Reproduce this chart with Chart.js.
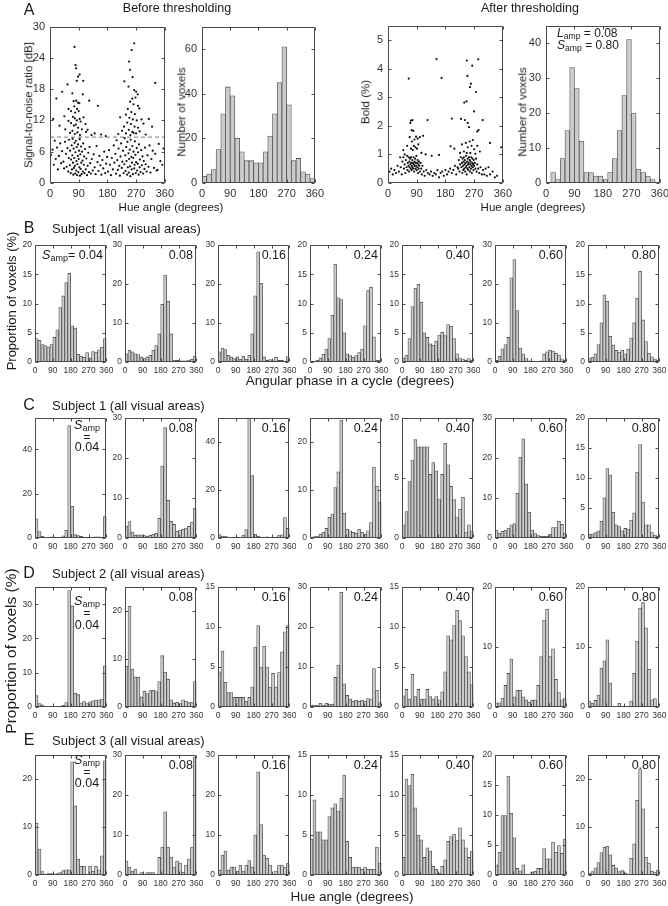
<!DOCTYPE html>
<html>
<head>
<meta charset="utf-8">
<script src="https://cdn.jsdelivr.net/npm/chart.js@4.4.0/dist/chart.umd.min.js"></script>
<style>
  body { margin: 0; background: #fff; }
  #fig { position: relative; width: 668px; height: 906px; overflow: hidden; font-family: "Liberation Sans", Arial, sans-serif; color: #1a1a1a; }
  #fig canvas { position: absolute; }
  .t { position: absolute; white-space: nowrap; transform: translate(-50%, -50%); line-height: 1; }
  .l { position: absolute; white-space: nowrap; transform: translate(0, -50%); line-height: 1; }
  .r { position: absolute; white-space: nowrap; transform: translate(-100%, -50%); line-height: 1; }
  .v { position: absolute; white-space: nowrap; transform: translate(-50%, -50%) rotate(-90deg); line-height: 1; }
  sub { font-size: 0.72em; vertical-align: -0.22em; line-height: 0; }
</style>
</head>
<body>
<div id="fig"></div>
<script>
// bins (centres, degrees) and tick labels
const binCenters = [7.5, 22.5, 37.5, 52.5, 67.5, 82.5, 97.5, 112.5, 127.5, 142.5, 157.5, 172.5,
  187.5, 202.5, 217.5, 232.5, 247.5, 262.5, 277.5, 292.5, 307.5, 322.5, 337.5, 352.5];
const hueTicks = [0, 90, 180, 270, 360];
const sampLabels = ["0.04", "0.08", "0.16", "0.24", "0.40", "0.60", "0.80"];

// A: before / after thresholding
const snrThreshold = 8.8;
const snrPoints = [
  [77,26.1],[80,22.6],[82,22],[88,20.4],[93,20.8],[84,19.6],[104,19.6],[55,18.9],[38,17.5],[20,16.2],
  [70,17.2],[74,15.7],[82,15.8],[88,15.4],[76,14.7],[85,14.2],[92,15.3],[79,13.5],[90,13.8],[72,12.7],
  [78,12.4],[84,12],[93,12.3],[66,11.5],[75,11],[81,11.2],[88,10.6],[96,11.8],[100,10.3],[70,10],
  [86,9.7],[78,9.4],[94,9.2],[63,9.6],[105,12.6],[111,11.3],[118,10.2],[123,15.8],[10,12.3],[30,11],
  [45,12.8],[58,14.2],[48,10.3],[66,13.8],[113,9.8],[103,17],[58,11.9],
  [264,26.8],[256,25.5],[248,23.3],[251,21.7],[259,20.3],[233,19.5],[246,18.5],[264,17.8],[270,17.5],
  [275,17],[268,16.4],[258,16.2],[251,15.6],[262,15.1],[276,14.8],[280,14.3],[244,14.2],[255,13.6],
  [266,13.2],[238,13.1],[249,12.5],[260,12.2],[272,12],[287,12.2],[242,11.6],[254,11.3],[265,10.8],
  [276,10.6],[232,10.8],[247,10.2],[258,9.8],[270,9.5],[281,9.9],[226,10],[238,9.5],[252,9.2],[262,9.6],
  [293,11.4],[310,12.3],[330,19.2],[220,12.6],[214,9.4],[300,9.3],[320,10.8],
  [150,14.8],[130,9.2],[160,9.3],[175,9],[140,9.5],
  [3,5.4],[8,6.4],[12,3.5],[15,8.1],[18,4.6],[22,6.8],[25,2.6],[28,5.2],[32,7.6],[35,3.8],[38,6.1],
  [42,4.1],[44,2.8],[47,7.9],[50,5.6],[52,3.1],[55,6.7],[57,2.2],[59,4.8],[60,8.3],
  [62,3.4],[63,6.2],[65,1.9],[66,4.5],[68,7.2],[69,2.6],[70,5.3],[71,8.5],[72,3.9],[73,1.6],[74,6.6],
  [75,2.9],[76,4.8],[77,7.7],[78,3.3],[79,1.8],[80,5.9],[81,8.1],[82,2.4],[83,4.2],[84,6.9],[85,1.5],
  [86,3.6],[87,5.2],[88,7.4],[89,2.1],[90,4.6],[91,6.2],[92,3],[93,8.4],[94,1.4],[95,5.5],[96,2.7],
  [97,7],[98,3.9],[99,1.7],[100,6],[102,4.3],[103,2.2],[104,7.6],[106,3.5],[107,5.1],[108,1.9],[110,6.5],
  [112,2.6],[114,4.7],[116,1.5],[118,3.3],[120,5.8],[122,2.1],[124,6.9],[126,3.8],[128,1.8],[131,4.6],
  [134,2.4],[137,5.5],[140,3],[143,1.7],[146,7.1],[149,4],[152,2.3],[155,5.2],[158,3.4],[161,1.6],
  [164,4.4],[167,2.8],[170,6],[173,1.9],[176,3.7],[179,5],[182,2.2],[185,6.3],[188,3.5],[191,1.5],
  [194,4.8],[197,2.6],[200,7.2],
  [202,3.9],[205,5.6],[207,1.8],[209,8.2],[211,4.4],[213,2.5],[215,6.6],[217,3.3],[219,1.4],[221,5.1],
  [223,7.6],[225,2.9],[227,4.1],[229,6.2],[231,1.9],[233,3.6],[234,8.6],[236,5.3],[237,2.3],[239,6.9],
  [240,4.2],[242,1.6],[243,7.9],[244,3],[246,5.7],[247,2],[248,4.6],[250,6.4],[251,3.2],[252,1.3],
  [253,8.3],[255,5],[256,2.6],[257,3.9],[258,7.1],[260,1.7],[261,4.8],[262,6],[264,2.8],[265,3.5],
  [266,8],[268,5.4],[269,1.9],[270,4],[272,6.7],[273,2.4],[275,3.7],[276,5.9],[278,1.6],[279,7.4],
  [281,3],[282,4.5],[284,2.1],[286,6.3],[288,3.4],[290,5.1],[292,1.8],[294,4.2],[296,2.7],[298,6.8],
  [300,3.6],[303,2.2],[306,5.3],[309,3.1],[312,7.2],[315,2],[318,4.6],[322,6.2],[326,2.9],[330,5.6],
  [334,2.4],[337,2.5],[341,7.5],[346,4.2],[352,3.5],[356,6.6]
];
const beforeCounts = [3, 4, 6, 15, 31, 43, 39, 20, 14, 10, 10, 9, 9, 14, 21, 31, 45, 61, 35, 10, 11, 5, 4, 2];

const boldPoints = [
  [65,3.65],[152,4.33],[168,3.67],[247,4.28],[283,4.32],[264,4.1],[249,3.74],[260,3.47],[257,3.35],
  [276,3.18],[239,2.81],[246,2.85],[270,2.5],[229,2.24],[241,2.2],[297,2.2],[124,2.2],[200,2.25],
  [72,2.18],[77,2.2],[74,1.85],[79,1.82],[70,2.1],[284,1.85],[280,1.8],[250,2.1],[254,1.95],
  [88,1.62],[93,1.55],[83,1.52],[68,1.6],[75,1.45],[95,1.35],[81,1.3],[86,1.25],[91,1.2],[60,1.3],
  [100,1.6],[78,1.15],[72,1.2],[105,1.05],[110,1.65],[118,1.0],[137,0.95],[160,0.98],[196,1.28],
  [208,1.2],[232,1.35],[238,1.1],[244,1.4],[250,1.25],[256,1.45],[262,1.3],[266,1.5],[270,1.18],
  [258,1.05],[247,1.05],[274,1.02],[280,1.3],[288,1.1],[226,1.05],[320,1.4],[355,1.25],[48,1.15],[52,1.0],
  [5,0.4],[10,0.5],[15,0.3],[20,0.45],[25,0.35],[30,0.6],[34,0.4],[38,0.9],[40,0.55],[43,0.3],[45,0.75],
  [48,0.9],[50,0.5],[52,0.65],[54,0.35],[56,0.8],[58,0.55],[60,0.95],[61,0.45],[62,0.7],[64,0.6],
  [65,0.9],[66,0.4],[67,0.75],[68,0.55],[69,0.85],[70,0.65],[71,0.5],[72,0.9],[73,0.7],[74,0.45],
  [75,0.6],[76,0.8],[77,0.55],[78,0.7],[79,0.5],[80,0.9],[81,0.65],[82,0.4],[83,0.75],[84,0.6],
  [85,0.85],[86,0.5],[87,0.7],[88,0.6],[89,0.95],[90,0.45],[91,0.7],[92,0.55],[93,0.8],[94,0.35],
  [95,0.65],[96,0.5],[97,0.75],[98,0.6],[100,0.4],[102,0.7],[104,0.5],[106,0.3],[108,0.6],[112,0.4],
  [115,0.25],[120,0.45],[125,0.35],[130,0.3],[135,0.4],[140,0.25],[145,0.35],[150,0.3],[155,0.45],
  [160,0.2],[165,0.35],[170,0.4],[175,0.25],[180,0.45],[185,0.3],[190,0.4],[195,0.5],[200,0.35],
  [205,0.45],[210,0.6],[214,0.3],[218,0.55],
  [220,0.5],[222,0.8],[224,0.4],[226,0.65],[228,0.9],[230,0.55],[232,0.7],[233,0.35],[234,0.85],
  [235,0.6],[236,0.45],[237,0.75],[238,0.9],[239,0.5],[240,0.65],[241,0.8],[242,0.4],[243,0.7],
  [244,0.55],[245,0.95],[246,0.6],[247,0.3],[248,0.75],[249,0.5],[250,0.85],[251,0.65],[252,0.45],
  [253,0.7],[254,0.9],[255,0.55],[256,0.8],[257,0.4],[258,0.65],[259,0.75],[260,0.5],[261,0.9],
  [262,0.6],[263,0.35],[264,0.7],[265,0.85],[266,0.55],[267,0.65],[268,0.45],[269,0.8],[270,0.6],
  [272,0.7],[274,0.5],[276,0.85],[278,0.4],[280,0.65],[283,0.5],[286,0.35],[290,0.55],[294,0.3],
  [298,0.45],[302,0.3],[306,0.5],[310,0.25],[315,0.55],[320,0.3],[328,0.4],[335,0.2],[342,0.25]
];
const afterCounts = [0, 3, 1, 7, 15, 33, 27, 12, 3, 3, 2, 2, 1, 3, 7, 15, 25, 41, 20, 4, 3, 2, 1, 0];

// B: subject 1, angular phase
const b004 = [4, 3.7, 3, 2.8, 2.6, 3, 4.2, 5.5, 9.3, 11.3, 13.6, 15.2, 6.2, 5.8, 1.3, 1, 0.8, 1.6, 0.7, 1.8, 1.7, 2.1, 2.5, 4];
const b008 = [2.1, 3, 2.6, 2.1, 1.9, 1.3, 0.9, 1.3, 1.7, 3, 4.2, 7.2, 14.8, 22.3, 15.6, 7.2, 0.5, 0.4, 0.3, 0.3, 0.3, 0.5, 0.7, 1.5];
const b016 = [2.6, 3.6, 3.2, 1.7, 1.3, 0.9, 1.3, 0.7, 1.5, 0.7, 1.7, 7.2, 17, 28.3, 20.2, 1.3, 0.4, 0.6, 0.3, 1.2, 0.4, 0.4, 0.2, 1.4];
const b024 = [0, 0.1, 0.3, 0.7, 1.3, 2.2, 4, 8, 16.7, 11, 10.7, 5, 1.4, 1.1, 0.8, 1.1, 1.6, 2.2, 6.2, 12.2, 12.8, 4.3, 0.3, 0.3];
const b040 = [0.7, 1.2, 4, 9.5, 12.6, 13.3, 10.2, 5, 4.2, 3.1, 2.9, 3.6, 4.6, 5.1, 4.5, 6.4, 6.1, 4, 1.4, 0.6, 0.5, 0.3, 0.6, 0.3];
const b060 = [0.4, 1.5, 3.4, 4.5, 6.3, 21.6, 26.3, 13.2, 3.6, 2.1, 0.9, 0.3, 0.1, 0.1, 0.1, 0.3, 2, 2.6, 3, 2.8, 2.2, 1.8, 0.8, 0.4];
const b080 = [0.6, 0.8, 1.4, 3, 6.7, 11.5, 10.4, 4.4, 2.9, 2, 1.7, 2, 1.4, 2.2, 4.1, 6.7, 10.9, 15.5, 7.2, 3.5, 1.5, 0.9, 0.5, 0.3];
const yMaxB = [20, 30, 30, 20, 20, 30, 20];
const yStepB = [5, 10, 10, 5, 5, 10, 5];

// C: subject 1, hue angle
const c004 = [8.6, 2.9, 0.8, 0.1, 0.3, 0.5, 0.3, 0.1, 0.3, 1, 3.5, 50.6, 14.3, 1.5, 1.1, 0.7, 0.2, 0.3, 0.2, 0.2, 0.5, 0.5, 0.2, 9.6];
const c008 = [3, 4.1, 1.5, 0.7, 0.8, 0.8, 0.6, 0.5, 0.7, 0.9, 1.2, 4.9, 18, 27.6, 9.4, 4.2, 3.4, 1.7, 2, 2.2, 2.5, 2.9, 4, 7.5];
const c016 = [1.4, 0.8, 0.8, 0.4, 0.2, 0.2, 0.2, 0.3, 1.2, 3.5, 51, 26, 1.5, 0.7, 0.3, 0.3, 0.5, 0.3, 0.4, 0.3, 1.2, 1.3, 8.5, 4];
const c024 = [0, 0.3, 0.4, 0.8, 1.2, 2, 4.3, 5, 10.5, 13.8, 24.6, 5.2, 1.8, 1.5, 1.2, 1, 1.8, 1.2, 0.8, 1.5, 3.2, 14.8, 10.8, 7.5];
const c040 = [1.1, 2.2, 4.7, 6.5, 8.2, 7.6, 7.6, 7.6, 7.6, 5.3, 6.3, 5.6, 3.2, 5.3, 7.9, 6.1, 4.3, 3.2, 1.7, 2.4, 3.4, 0.5, 1.1, 0.6];
const c060 = [2, 1.2, 1.7, 2, 2.5, 3.3, 3.6, 11.2, 20.2, 24.8, 13.5, 6.5, 2, 1.1, 0.6, 0.4, 0.4, 0.4, 0.9, 2.6, 2.6, 4.2, 3.4, 1.2];
const c080 = [0.6, 0.7, 0.9, 1.2, 2.8, 6.7, 11.6, 10.5, 4.3, 2.2, 1.9, 1.2, 1.6, 1.5, 3, 4.2, 11, 15.6, 6, 2.2, 2.2, 0.9, 0.5, 0.3];
const yMaxC = [54, 30, 50, 25, 10, 30, 20];
const yStepC = [20, 10, 20, 10, 5, 10, 5];

// D: subject 2, hue angle
const d004 = [3.3, 1, 0.6, 0.1, 0.2, 0.2, 0.1, 0.1, 0.2, 0.5, 1.3, 34, 29.5, 4, 3.6, 1.2, 1.6, 1, 1.5, 1.8, 2, 2.1, 2.3, 12];
const d008 = [8.5, 21, 7.9, 6.3, 6.2, 2.1, 3.3, 2.8, 3.4, 3.5, 3.2, 5.3, 10.7, 7.3, 5.8, 1.5, 0.8, 1, 0.7, 1.5, 1.2, 0.9, 0.9, 5.3];
const d016 = [4.4, 7, 3.1, 1.8, 1.8, 1.2, 1.2, 1.2, 1.2, 0.7, 1.2, 2.5, 7.5, 10.2, 5, 7.6, 5, 2.5, 4.2, 2.5, 4.3, 6.9, 9.4, 10.2];
const d024 = [0.5, 0.5, 0.5, 0.9, 0.5, 0.9, 0.6, 0.7, 7.4, 10.5, 28.7, 5.8, 2.9, 2, 1.4, 1.7, 1.4, 1.7, 1.5, 2.1, 2, 9.6, 4.2, 1.1];
const d040 = [1.4, 2.2, 1, 4.1, 1.3, 2.2, 1, 1, 2.2, 1.3, 1, 1.3, 0.9, 1.9, 4.4, 8.9, 8.4, 10.2, 12.1, 10.8, 8.9, 6.3, 4.4, 2.8];
const d060 = [0.7, 0.7, 1.5, 3.6, 5.6, 8, 1.7, 2.8, 2.8, 1.7, 1.2, 0.8, 1.1, 1.2, 3.6, 8.4, 14.5, 16.3, 8.4, 9.7, 4.6, 2.4, 1.2, 1.5];
const d080 = [1, 0.6, 1.1, 2, 6.5, 7.7, 11.2, 4, 0, 0, 0.6, 0, 0, 0, 1, 5.6, 11, 16.5, 17.4, 13.2, 6.3, 1.2, 1.4, 0];
const yMaxD = [35, 25, 15, 30, 15, 20, 20];
const yStepD = [10, 10, 5, 10, 5, 10, 10];

// E: subject 3, hue angle
const e004 = [10.8, 5.4, 0.7, 0, 0.3, 0.3, 0, 0.3, 0.5, 0.9, 1.1, 1.1, 23.6, 14.4, 3.3, 1.8, 1.8, 0, 1.8, 0.8, 1.8, 1.1, 4, 23.8];
const e008 = [3.5, 2, 1, 1.5, 0, 0.6, 0, 0.6, 0.6, 0.6, 0, 4.4, 7, 15.8, 7, 4.5, 2, 3.5, 3, 0.7, 2.5, 4, 7, 29.5];
const e016 = [1.2, 5, 6, 1.2, 2, 2, 1, 2.5, 1, 2.5, 3.6, 2, 10, 25.8, 12.6, 5, 4.2, 2.5, 0.3, 1, 2.5, 2.5, 2, 3];
const e024 = [4.5, 9.4, 5.4, 5.4, 4.4, 4.4, 7.3, 8.4, 8.9, 8, 9.6, 12.5, 4.2, 2.2, 1, 1, 1, 0.7, 1, 0.7, 0.7, 0.7, 3.5, 1.5];
const e040 = [2.2, 12, 11.2, 12.6, 8.4, 5, 4.4, 2.2, 3.4, 3, 1.1, 0.7, 0.2, 1.1, 1.9, 4.2, 4.8, 5.1, 4.3, 5.9, 4.4, 3.4, 2.2, 3];
const e060 = [1.7, 3.8, 9.9, 9.9, 16.5, 10.3, 6.2, 1.1, 0.7, 1.7, 0, 0, 0.5, 0.6, 1.1, 1.1, 4.4, 2.7, 2.7, 5.5, 3.8, 4.9, 3.6, 6];
const e080 = [0.4, 0.7, 1.5, 2.6, 4.7, 5.8, 6, 4.2, 2, 1.5, 0.7, 0.9, 0.4, 0.2, 3.5, 6.5, 15.6, 22, 13.8, 3.7, 2.5, 0.8, 0.6, 1];
const yMaxE = [25, 30, 30, 15, 15, 20, 25];
const yStepE = [10, 10, 10, 5, 5, 5, 10];

const colors = {
  barFill: "#cbcbcb",
  barEdge: "#4f4f4f",
  axis: "#4a4a4a",
  tick: "#333333",
  point: "#111111",
  dash: "#7a7a7a",
};
const FONT = "'Liberation Sans', Arial, sans-serif";
Chart.defaults.font.family = FONT;

const fig = document.getElementById("fig");

// box round the plot + inward tick marks on all four sides (matlab look)
const matlabBox = {
  id: "matlabBox",
  afterDatasetsDraw(chart) {
    const { ctx, chartArea: a, scales } = chart;
    const L = Math.round(a.left) + 0.5, R = Math.round(a.right) - 0.5;
    const T = Math.round(a.top) + 0.5, B = Math.round(a.bottom) - 0.5;
    ctx.save();
    ctx.strokeStyle = colors.axis;
    ctx.lineWidth = 1;
    ctx.beginPath();
    ctx.rect(L, T, R - L, B - T);
    scales.x.ticks.forEach((t) => {
      const px = Math.round(scales.x.getPixelForValue(t.value)) + 0.5;
      ctx.moveTo(px, B); ctx.lineTo(px, B - 3);
      ctx.moveTo(px, T); ctx.lineTo(px, T + 3);
    });
    scales.y.ticks.forEach((t) => {
      const py = Math.round(scales.y.getPixelForValue(t.value)) + 0.5;
      ctx.moveTo(L, py); ctx.lineTo(L + 3, py);
      ctx.moveTo(R, py); ctx.lineTo(R - 3, py);
    });
    ctx.stroke();
    ctx.restore();
  },
};

function addCanvas(box, m) {
  const c = document.createElement("canvas");
  const w = box.w + m.yw + m.pr, h = box.h + m.pt + m.xh;
  c.width = w; c.height = h;
  c.style.left = box.x - m.yw + "px";
  c.style.top = box.y - m.pt + "px";
  c.style.width = w + "px";
  c.style.height = h + "px";
  fig.appendChild(c);
  return c;
}

function axes(ymax, ystep, m) {
  return {
    x: {
      type: "linear", min: 0, max: 360, offset: false,
      grid: { display: false, drawTicks: false },
      border: { display: false },
      ticks: { autoSkip: false, maxRotation: 0, padding: m.xpad, color: colors.tick, font: { size: m.fs } },
      afterBuildTicks: (s) => { s.ticks = hueTicks.map((v) => ({ value: v })); },
      afterFit: (s) => { s.height = m.xh; },
    },
    y: {
      min: 0, max: ymax,
      grid: { display: false, drawTicks: false },
      border: { display: false },
      ticks: { stepSize: ystep, padding: m.ypad, color: colors.tick, font: { size: m.fs } },
      afterBuildTicks: (s) => {
        s.ticks = s.ticks.filter((t) => Math.abs(t.value / ystep - Math.round(t.value / ystep)) < 1e-6);
      },
      afterFit: (s) => { s.width = m.yw; },
    },
  };
}

function baseOptions(ymax, ystep, m) {
  return {
    responsive: false,
    animation: false,
    layout: { padding: { top: m.pt, right: m.pr, left: 0, bottom: 0 } },
    plugins: { legend: { display: false }, tooltip: { enabled: false } },
    scales: axes(ymax, ystep, m),
  };
}

function drawHist(box, values, ymax, ystep, m) {
  new Chart(addCanvas(box, m), {
    type: "bar",
    data: {
      datasets: [{
        data: binCenters.map((c, i) => ({ x: c, y: values[i] })),
        backgroundColor: colors.barFill,
        borderColor: colors.barEdge,
        borderWidth: 0.8,
        barPercentage: 1,
        categoryPercentage: 1,
      }],
    },
    options: baseOptions(ymax, ystep, m),
    plugins: [matlabBox],
  });
}

function drawScatter(box, points, ymax, ystep, m, hline) {
  const datasets = [{
    data: points.map((p) => ({ x: p[0], y: p[1] })),
    pointRadius: 1.1,
    pointBorderWidth: 0,
    backgroundColor: colors.point,
  }];
  if (hline !== undefined) {
    datasets.push({
      type: "line",
      data: [{ x: 0, y: hline }, { x: 360, y: hline }],
      borderColor: colors.dash,
      borderWidth: 1,
      borderDash: [4, 3],
      pointRadius: 0,
    });
  }
  new Chart(addCanvas(box, m), {
    type: "scatter",
    data: { datasets },
    options: baseOptions(ymax, ystep, m),
    plugins: [matlabBox],
  });
}

function addText(html, x, y, size, cls) {
  const d = document.createElement("div");
  d.className = cls || "t";
  d.style.left = x + "px";
  d.style.top = y + "px";
  d.style.fontSize = size + "px";
  d.innerHTML = html;
  fig.appendChild(d);
}

// ---- panel A ----
const mA = { yw: 30, xh: 20, pt: 8, pr: 13, fs: 11, xpad: 4, ypad: 5 };
drawScatter({ x: 50, y: 23, w: 115, h: 160 }, snrPoints, 30, 6, mA, snrThreshold);
drawHist({ x: 202, y: 23, w: 113, h: 160 }, beforeCounts, 70, 20, mA);
drawScatter({ x: 388, y: 22, w: 115, h: 161 }, boldPoints, 5.5, 1, mA);
drawHist({ x: 546, y: 22, w: 114, h: 161 }, afterCounts, 45, 10, mA);

addText("A", 29, 10, 16);
addText("Before thresholding", 177, 8, 12.5);
addText("After thresholding", 530, 8, 12.5);
addText("Hue angle (degrees)", 171, 208, 11.5);
addText("Hue angle (degrees)", 533, 208, 11.5);
addText("Signal-to-noise ratio [dB]", 29, 105, 11.5, "v");
addText("Number of voxels", 182, 112, 11.5, "v");
addText("Bold (%)", 366, 102, 11.5, "v");
addText("Number of voxels", 523, 112, 11.5, "v");
addText("<i>L</i><sub>amp</sub> = 0.08", 557, 33, 12, "l");
addText("<i>S</i><sub>amp</sub> = 0.80", 557, 45, 12, "l");

// ---- panels B-E ----
const rowLefts = [35, 125, 218, 310, 402, 495, 588];
const panelW = 72;
const mRow = { yw: 22, xh: 16, pt: 8, pr: 10, fs: 8.5, xpad: 3.5, ypad: 3 };
const rows = [
  { top: 245, h: 117, sets: [b004, b008, b016, b024, b040, b060, b080], yMax: yMaxB, yStep: yStepB, stack: null },
  { top: 418, h: 120, sets: [c004, c008, c016, c024, c040, c060, c080], yMax: yMaxC, yStep: yStepC, stack: [425, 437, 447] },
  { top: 587, h: 120, sets: [d004, d008, d016, d024, d040, d060, d080], yMax: yMaxD, yStep: yStepD, stack: [601, 613, 625] },
  { top: 755, h: 120, sets: [e004, e008, e016, e024, e040, e060, e080], yMax: yMaxE, yStep: yStepE, stack: [760, 772, 783] },
];
const SAMP = "<i>S</i><sub>amp</sub>";
rows.forEach((row) => {
  row.sets.forEach((vals, i) => {
    const box = { x: rowLefts[i], y: row.top, w: panelW, h: row.h };
    drawHist(box, vals, row.yMax[i], row.yStep[i], mRow);
    const right = rowLefts[i] + panelW - 4;
    if (i === 0 && row.stack) {
      const cx = rowLefts[0] + 52;
      addText(SAMP, cx, row.stack[0], 12.5);
      addText("=", cx, row.stack[1], 12.5);
      addText(sampLabels[0], cx, row.stack[2], 12.5);
    } else if (i === 0) {
      addText(SAMP + "= " + sampLabels[0], right, row.top + 10, 12.5, "r");
    } else {
      addText(sampLabels[i], right, row.top + 10, 12.5, "r");
    }
  });
});

addText("B", 29, 228, 16);
addText("Subject 1(all visual areas)", 52, 228, 13, "l");
addText("C", 29, 405, 16);
addText("Subject 1 (all visual areas)", 52, 405, 13, "l");
addText("D", 29, 573, 16);
addText("Subject 2 (all visual areas)", 52, 573, 13, "l");
addText("E", 29, 740, 16);
addText("Subject 3 (all visual areas)", 52, 740, 13, "l");

addText("Angular phase in a cycle (degrees)", 350, 381, 13.5);
addText("Hue angle (degrees)", 352, 897, 13.5);
addText("Proportion of voxels (%)", 11, 301, 13, "v");
addText("Proportion of voxels (%)", 11, 651, 15.5, "v");
</script>
</body>
</html>
